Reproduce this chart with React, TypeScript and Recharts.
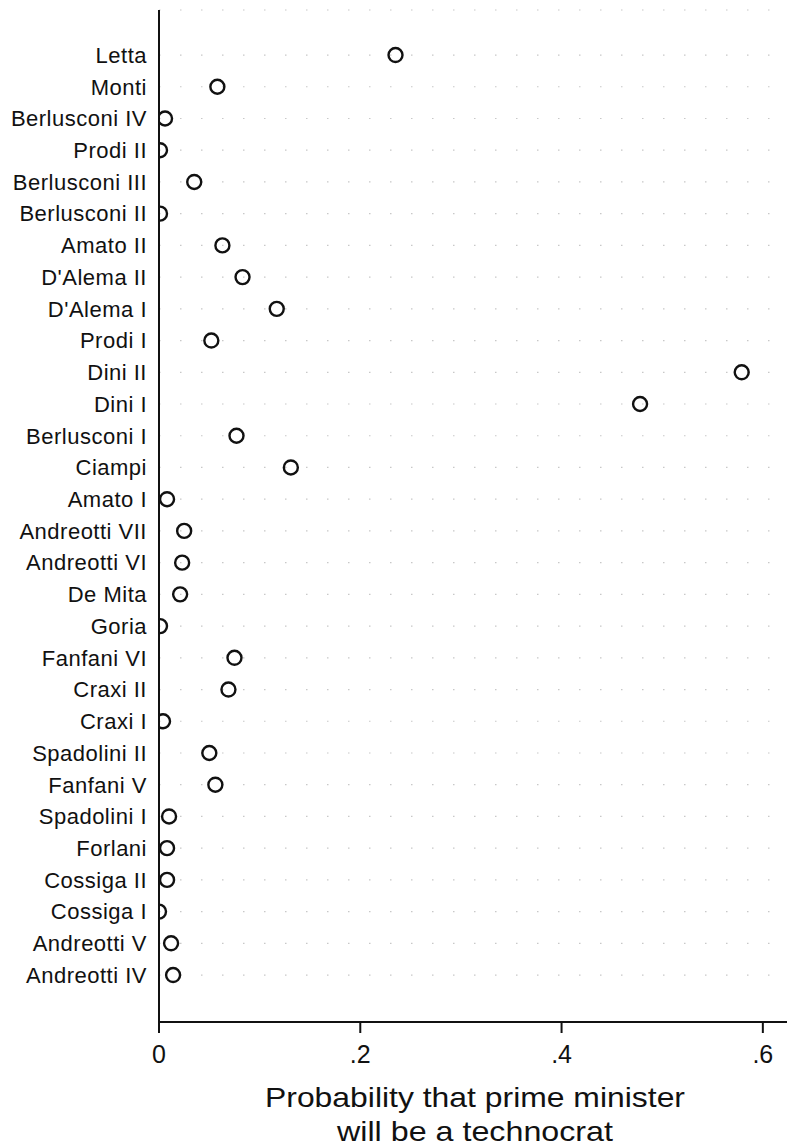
import { ScatterChart, Scatter, XAxis, YAxis, CartesianGrid } from 'recharts';

const governments = [
  'Letta', 'Monti', 'Berlusconi IV', 'Prodi II', 'Berlusconi III', 'Berlusconi II',
  'Amato II', "D'Alema II", "D'Alema I", 'Prodi I', 'Dini II', 'Dini I',
  'Berlusconi I', 'Ciampi', 'Amato I', 'Andreotti VII', 'Andreotti VI', 'De Mita',
  'Goria', 'Fanfani VI', 'Craxi II', 'Craxi I', 'Spadolini II', 'Fanfani V',
  'Spadolini I', 'Forlani', 'Cossiga II', 'Cossiga I', 'Andreotti V', 'Andreotti IV',
];

const probabilities = [
  0.235, 0.058, 0.006, 0.001, 0.035, 0.001,
  0.063, 0.083, 0.117, 0.052, 0.579, 0.478,
  0.077, 0.131, 0.008, 0.025, 0.023, 0.021,
  0.001, 0.075, 0.069, 0.004, 0.05, 0.056,
  0.01, 0.008, 0.008, 0.0, 0.012, 0.014,
];

const xTicks = [0, 0.2, 0.4, 0.6];

const chartData = governments.map((name, i) => ({
  name,
  pos: i,
  prob: probabilities[i],
}));

const FONT = '"Liberation Sans", Arial, Helvetica, sans-serif';

const fmtX = (v: number) => (v === 0 ? '0' : String(v).replace(/^0\./, '.'));

const Ring = (props: any) => {
  const { cx, cy } = props;
  return <circle cx={cx} cy={cy} r={7} fill="none" stroke="#111" strokeWidth={2.4} />;
};

const AxisTitle = (props: any) => {
  const { viewBox } = props;
  const cx = viewBox.x + viewBox.width / 2 + 2;
  return (
    <g>
      <text x={cx} y={1107} textAnchor="middle" fontSize={28} fontFamily={FONT} fill="#111"
        textLength={420} lengthAdjust="spacingAndGlyphs">
        Probability that prime minister
      </text>
      <text x={cx} y={1141} textAnchor="middle" fontSize={28} fontFamily={FONT} fill="#111"
        textLength={276} lengthAdjust="spacingAndGlyphs">
        will be a technocrat
      </text>
    </g>
  );
};

const App = () => {
  return (
    <div style={{ position: 'absolute', left: 0, top: 0, width: 787, height: 1148, background: '#fff' }}>
      <ScatterChart width={787} height={1148} margin={{ top: 10, right: 0, bottom: 0, left: 0 }}>
        <CartesianGrid
          vertical={false}
          stroke="#c8c8c8"
          strokeDasharray="1.5 19.5"
          strokeWidth={1.2}
        />
        <XAxis
          type="number"
          dataKey="prob"
          domain={[0, 0.624]}
          ticks={xTicks}
          tickFormatter={fmtX}
          allowDataOverflow
          height={126}
          axisLine={{ stroke: '#111', strokeWidth: 2 }}
          tickLine={{ stroke: '#111', strokeWidth: 2 }}
          tickSize={11}
          tick={{ fontSize: 25, fontFamily: FONT, fill: '#111', dy: 10 }}
          label={<AxisTitle />}
        />
        <YAxis
          type="number"
          dataKey="pos"
          domain={[-1.42, 30.48]}
          reversed
          ticks={chartData.map((d) => d.pos)}
          interval={0}
          tickFormatter={(v: number) => governments[v] ?? ''}
          allowDataOverflow
          width={159}
          axisLine={{ stroke: '#111', strokeWidth: 2 }}
          tickLine={false}
          tickMargin={6}
          tick={{ fontSize: 22, fontFamily: FONT, fill: '#111', letterSpacing: 0.5 }}
        />
        <Scatter data={chartData} shape={<Ring />} isAnimationActive={false} />
      </ScatterChart>
    </div>
  );
};

export default App;
